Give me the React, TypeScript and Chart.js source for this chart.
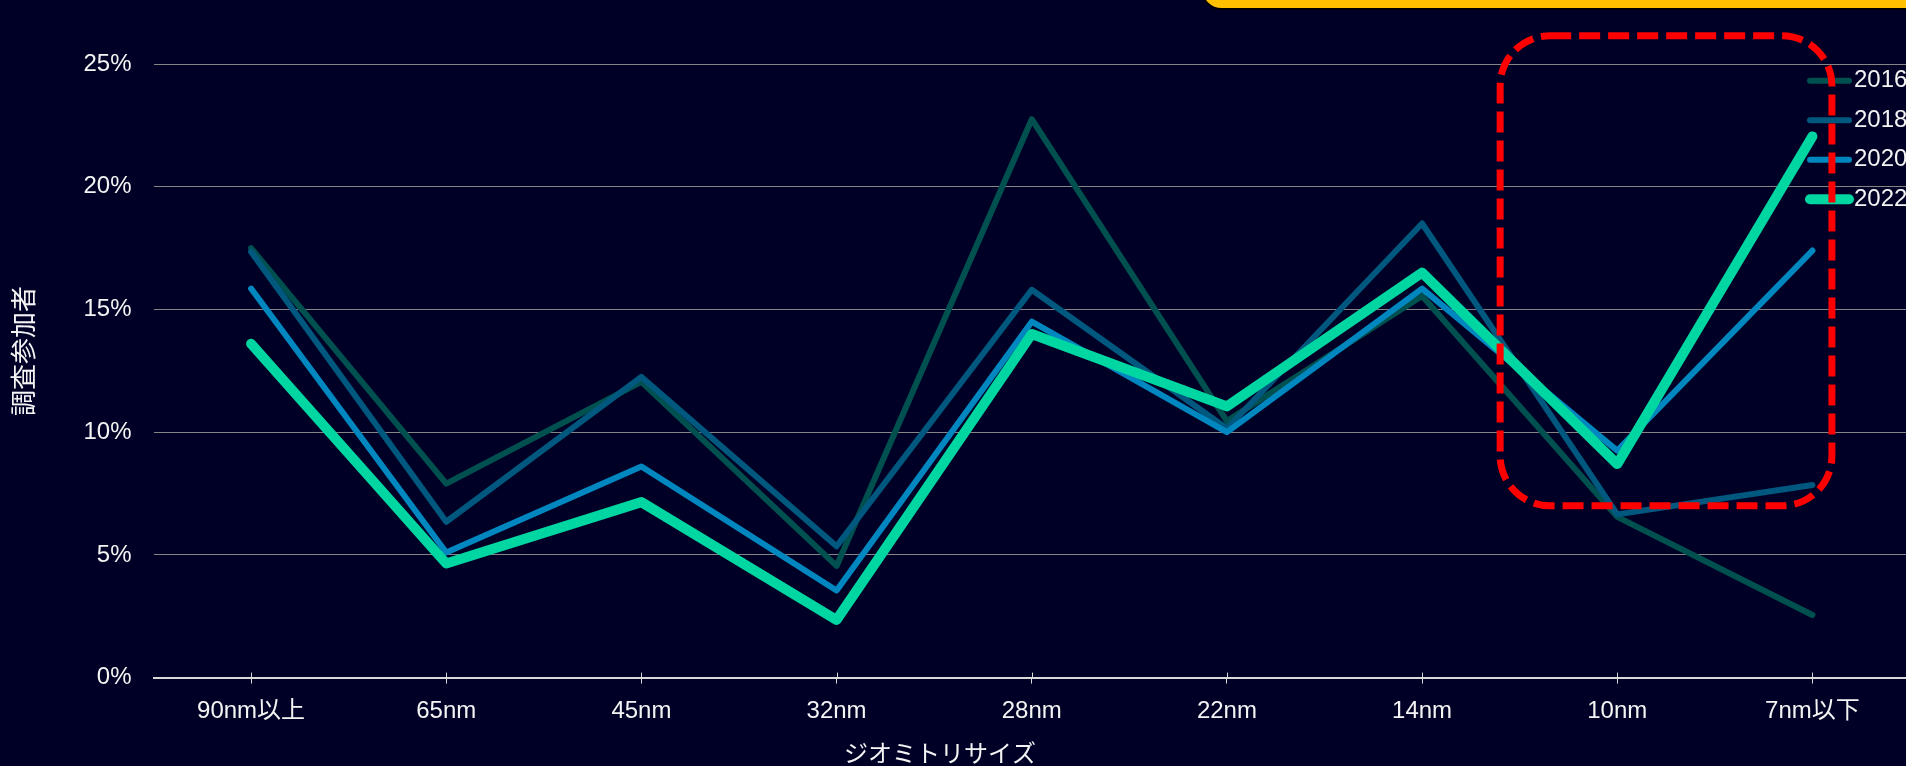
import React, { useEffect, useRef } from 'react';
import { Chart, registerables } from 'chart.js';

Chart.register(...registerables);

// ---------- data ----------
const CATEGORIES = ['90nm以上', '65nm', '45nm', '32nm', '28nm', '22nm', '14nm', '10nm', '7nm以下'];
const SERIES_LABELS = ['2016', '2018', '2020', '2022'];
const VALUES_2016 = [17.5, 7.9, 12.05, 4.55, 22.75, 10.45, 15.55, 6.55, 2.55];
const VALUES_2018 = [17.35, 6.35, 12.25, 5.35, 15.8, 10.15, 18.5, 6.65, 7.85];
const VALUES_2020 = [15.85, 5.1, 8.6, 3.55, 14.5, 10.0, 15.85, 9.25, 17.4];
const VALUES_2022 = [13.6, 4.65, 7.15, 2.35, 14.0, 11.05, 16.5, 8.7, 22.05];
const Y_TICKS = [0, 5, 10, 15, 20, 25];
const Y_TICK_LABELS = ['0%', '5%', '10%', '15%', '20%', '25%'];
const X_TITLE = 'ジオミトリサイズ';
const Y_TITLE = '調査参加者';
// highlighted region, in scale units (category index, percent)
const HIGHLIGHT_X = [6.4, 8.1];
const HIGHLIGHT_Y = [7.0, 26.15];

// ---------- style ----------
const BG = '#000026';
const TEXT = '#F4F4F4';
const GRID = '#858585';
const AXIS = '#D9D9D9';
const FONT = '"Liberation Sans", Arial, "Noto Sans CJK JP", sans-serif';
const COLORS = ['#00504F', '#00587F', '#0087BF', '#00D6A2'];
const WIDTHS = [6, 6, 6, 10];
const CANVAS_W = 1910;
const CANVAS_H = 800;
const PLOT_TOP = 64;
const PLOT_BOTTOM = 677.6;
const PLOT_LEFT = 153.5;

const overlayPlugin = {
  id: 'overlay',
  afterDraw(chart: any) {
    const { ctx, chartArea: area } = chart;
    const xs = chart.scales.x;
    const ys = chart.scales.y;
    ctx.save();

    // upper halves of the x tick marks (ticks cross the axis)
    ctx.strokeStyle = AXIS;
    ctx.lineWidth = 1;
    xs.ticks.forEach((_t: any, i: number) => {
      const px = Math.round(xs.getPixelForTick(i)) + 0.5;
      ctx.beginPath();
      ctx.moveTo(px, area.bottom - 5);
      ctx.lineTo(px, area.bottom);
      ctx.stroke();
    });

    // axis titles
    ctx.fillStyle = TEXT;
    ctx.textAlign = 'center';
    ctx.textBaseline = 'middle';
    ctx.font = `24px ${FONT}`;
    ctx.fillText(X_TITLE, 940, area.bottom + 78);
    ctx.save();
    ctx.translate(25.5, 351);
    ctx.rotate(-Math.PI / 2);
    ctx.font = `26px ${FONT}`;
    ctx.fillText(Y_TITLE, 0, 0);
    ctx.restore();

    // legend
    chart.data.datasets.forEach((ds: any, i: number) => {
      const yy = area.top + 16.8 + i * 39.5;
      ctx.strokeStyle = ds.borderColor;
      ctx.lineWidth = ds.borderWidth;
      ctx.lineCap = 'round';
      ctx.setLineDash([]);
      ctx.beginPath();
      ctx.moveTo(area.right - 100, yy);
      ctx.lineTo(area.right - 61, yy);
      ctx.stroke();
      ctx.fillStyle = TEXT;
      ctx.textAlign = 'left';
      ctx.textBaseline = 'middle';
      ctx.font = `24px ${FONT}`;
      ctx.fillText(ds.label, area.right - 56, yy);
    });

    // red dashed highlight
    const l = xs.getPixelForValue(HIGHLIGHT_X[0]);
    const r = xs.getPixelForValue(HIGHLIGHT_X[1]);
    const t = ys.getPixelForValue(HIGHLIGHT_Y[1]);
    const b = ys.getPixelForValue(HIGHLIGHT_Y[0]);
    ctx.strokeStyle = '#FF0000';
    ctx.lineWidth = 7;
    ctx.lineCap = 'butt';
    ctx.setLineDash([21, 8]);
    ctx.beginPath();
    ctx.roundRect(l, t, r - l, b - t, 50);
    ctx.stroke();
    ctx.restore();
  },
};

export default function App() {
  const canvasRef = useRef<HTMLCanvasElement | null>(null);

  useEffect(() => {
    document.body.style.margin = '0';
    document.body.style.background = BG;
    const canvas = canvasRef.current;
    if (!canvas) return;
    const seriesValues = [VALUES_2016, VALUES_2018, VALUES_2020, VALUES_2022];
    const chart = new Chart(canvas, {
      type: 'line',
      data: {
        labels: CATEGORIES,
        datasets: SERIES_LABELS.map((label, i) => ({
          label,
          data: seriesValues[i],
          borderColor: COLORS[i],
          backgroundColor: COLORS[i],
          borderWidth: WIDTHS[i],
          borderCapStyle: 'round',
          borderJoinStyle: 'round',
          pointRadius: 0,
          pointHoverRadius: 0,
          tension: 0,
          fill: false,
          order: SERIES_LABELS.length - i,
        })),
      },
      options: {
        responsive: false,
        animation: false,
        devicePixelRatio: 1,
        layout: { padding: { top: PLOT_TOP, left: 0, right: 0, bottom: 0 } },
        plugins: {
          legend: { display: false },
          tooltip: { enabled: false },
        },
        scales: {
          x: {
            type: 'category',
            offset: true,
            grid: {
              display: true,
              drawOnChartArea: false,
              drawTicks: true,
              tickLength: 6,
              color: AXIS,
              lineWidth: 1,
              offset: false,
            },
            border: { display: true, color: AXIS, width: 2 },
            ticks: {
              color: TEXT,
              font: { family: FONT, size: 24 },
              padding: 13,
              maxRotation: 0,
              autoSkip: false,
            },
            afterFit: (s: any) => {
              s.height = CANVAS_H - PLOT_BOTTOM;
            },
          },
          y: {
            min: 0,
            max: 25,
            ticks: {
              stepSize: 5,
              color: TEXT,
              font: { family: FONT, size: 24 },
              padding: 22,
              callback: (v: any) => {
                const idx = Y_TICKS.indexOf(Number(v));
                return idx >= 0 ? Y_TICK_LABELS[idx] : '';
              },
            },
            grid: { color: GRID, lineWidth: 1, drawTicks: false },
            border: { display: false },
            afterFit: (s: any) => {
              s.width = PLOT_LEFT;
            },
          },
        },
      },
      plugins: [overlayPlugin],
    } as any);
    return () => chart.destroy();
  }, []);

  return (
    <div
      style={{
        position: 'fixed',
        left: 0,
        top: 0,
        width: 1906,
        height: 766,
        overflow: 'hidden',
        background: BG,
      }}
    >
      <canvas
        ref={canvasRef}
        width={CANVAS_W}
        height={CANVAS_H}
        style={{ display: 'block', width: CANVAS_W, height: CANVAS_H }}
      />
      <div
        style={{
          position: 'absolute',
          left: 1200,
          top: -40,
          width: 800,
          height: 50,
          boxSizing: 'border-box',
          background: '#FFC000',
          border: '2px solid #000000',
          borderRadius: 22,
        }}
      />
    </div>
  );
}
